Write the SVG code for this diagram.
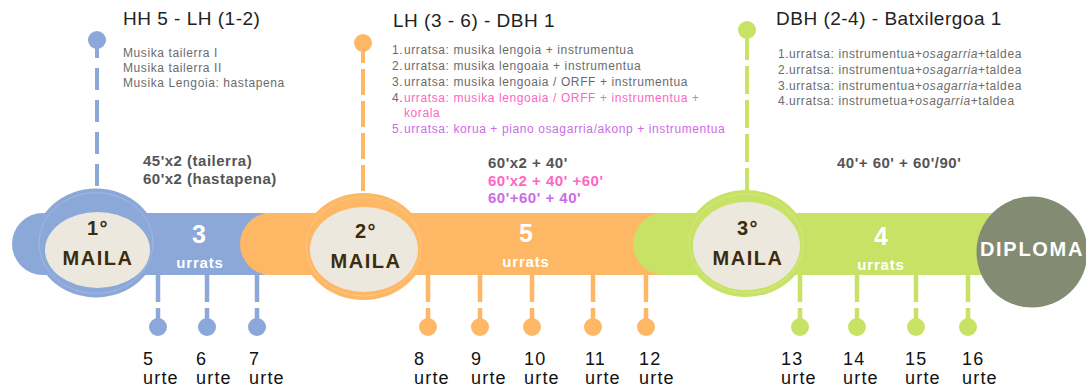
<svg xmlns="http://www.w3.org/2000/svg" width="1086" height="389" viewBox="0 0 1086 389">
<style>
.t{font-family:"Liberation Sans",Arial,sans-serif}
.title{font-size:19px;letter-spacing:0.5px;fill:#222}
.lst{font-size:12px;letter-spacing:0.6px;fill:#6b6b6b}
.dur{font-size:15px;font-weight:bold;letter-spacing:0.5px;fill:#555}
.pink{fill:#ff66c4}
.purp{fill:#cb6ce6}
.lvl{font-size:20px;font-weight:bold;letter-spacing:1.5px;fill:#3b2c0c;text-anchor:middle}
.big{font-size:25px;font-weight:bold;fill:#fff;text-anchor:middle}
.ur{font-size:15px;font-weight:bold;letter-spacing:0.8px;fill:#fff;text-anchor:middle}
.age{font-size:18px;letter-spacing:1.2px;fill:#111}
.cream{fill:#ece8de}
.ring{fill:none;stroke:#fff;stroke-opacity:0.18;stroke-width:1}
.b{fill:#8ba8d8}.bs{stroke:#8ba8d8}
.o{fill:#feb865}.os{stroke:#feb865}
.g{fill:#c8e266}.gs{stroke:#c8e266}
.top{stroke-width:4;fill:none}
.tick{stroke-width:4.5;fill:none;stroke-dasharray:27 6}
</style>

<g id="connectors">
  <line class="top bs" x1="97" y1="36" x2="97" y2="190" stroke-dasharray="22 10"/>
  <circle class="b" cx="97" cy="40" r="9"/>
  <line class="top os" x1="363" y1="37" x2="363" y2="195" stroke-dasharray="26 6"/>
  <circle class="o" cx="363" cy="43" r="9"/>
  <line class="top gs" x1="747" y1="32" x2="747" y2="192" stroke-dasharray="28 6"/>
  <circle class="g" cx="747" cy="30" r="9"/>

  <g class="tick bs">
    <line x1="158" y1="275" x2="158" y2="327"/>
    <line x1="207" y1="275" x2="207" y2="327"/>
    <line x1="257" y1="275" x2="257" y2="327"/>
  </g>
  <g class="b">
    <circle cx="158" cy="327" r="9"/><circle cx="207" cy="327" r="9"/><circle cx="257" cy="327" r="9"/>
  </g>
  <g class="tick os">
    <line x1="428" y1="275" x2="428" y2="327"/>
    <line x1="480" y1="275" x2="480" y2="327"/>
    <line x1="532" y1="275" x2="532" y2="327"/>
    <line x1="593" y1="275" x2="593" y2="327"/>
    <line x1="646" y1="275" x2="646" y2="327"/>
  </g>
  <g class="o">
    <circle cx="428" cy="327" r="9"/><circle cx="480" cy="327" r="9"/><circle cx="532" cy="327" r="9"/><circle cx="593" cy="327" r="9"/><circle cx="646" cy="327" r="9"/>
  </g>
  <g class="tick gs">
    <line x1="800" y1="275" x2="800" y2="327"/>
    <line x1="857" y1="275" x2="857" y2="327"/>
    <line x1="916" y1="275" x2="916" y2="327"/>
    <line x1="968" y1="275" x2="968" y2="327"/>
  </g>
  <g class="g">
    <circle cx="800" cy="327" r="9"/><circle cx="857" cy="327" r="9"/><circle cx="916" cy="327" r="9"/><circle cx="968" cy="327" r="9"/>
  </g>
</g>

<g id="band1">
  <rect class="b" x="12" y="213" width="280" height="62" rx="31"/>
  <text class="t big" x="199" y="243">3</text>
  <text class="t ur" x="200" y="268">urrats</text>
</g>
<g id="band2">
  <rect class="o" x="240" y="213" width="450" height="62" rx="31"/>
  <text class="t big" x="526" y="242">5</text>
  <text class="t ur" x="526" y="267">urrats</text>
</g>
<g id="band3">
  <rect class="g" x="633" y="213" width="420" height="62" rx="31"/>
  <text class="t big" x="881" y="245">4</text>
  <text class="t ur" x="881" y="270">urrats</text>
</g>

<g id="maila1">
  <ellipse class="b" cx="96" cy="243" rx="61" ry="54.5"/>
  <ellipse class="ring" cx="96" cy="243" rx="57" ry="50.5"/>
  <ellipse class="cream" cx="97.5" cy="250" rx="52.5" ry="38"/>
  <text class="t lvl" x="98" y="235">1°</text>
  <text class="t lvl" x="98" y="265">MAILA</text>
</g>
<g id="maila2">
  <ellipse class="o" cx="363.5" cy="246.5" rx="61.5" ry="53.5"/>
  <ellipse class="ring" cx="363.5" cy="246.5" rx="57.5" ry="49.5"/>
  <ellipse class="cream" cx="364" cy="249.5" rx="54" ry="42.5"/>
  <text class="t lvl" x="366" y="238">2°</text>
  <text class="t lvl" x="366" y="268">MAILA</text>
</g>
<g id="maila3">
  <ellipse class="g" cx="746" cy="243.5" rx="61" ry="53.5"/>
  <ellipse class="ring" cx="746" cy="243.5" rx="57" ry="49.5"/>
  <ellipse class="cream" cx="746.5" cy="246" rx="53.5" ry="44"/>
  <text class="t lvl" x="748" y="235">3°</text>
  <text class="t lvl" x="748" y="265">MAILA</text>
</g>
<g id="diploma">
  <circle cx="1032" cy="252" r="55.5" fill="#838b72"/>
  <text class="t" x="1032" y="256" font-size="20" font-weight="bold" letter-spacing="1.7" fill="#fff" text-anchor="middle">DIPLOMA</text>
</g>

<g id="info1">
  <text class="t title" x="123" y="25">HH 5 - LH (1-2)</text>
  <text class="t lst" x="123" y="57">Musika tailerra I</text>
  <text class="t lst" x="123" y="72">Musika tailerra II</text>
  <text class="t lst" x="123" y="87">Musika Lengoia: hastapena</text>
  <text class="t dur" x="143" y="166">45'x2 (tailerra)</text>
  <text class="t dur" x="143" y="184">60'x2 (hastapena)</text>
</g>
<g id="info2">
  <text class="t title" x="393" y="27">LH (3 - 6) - DBH 1</text>
  <g class="t lst">
    <text x="392" y="54">1.</text><text x="404" y="54">urratsa: musika lengoia + instrumentua</text>
    <text x="392" y="70">2.</text><text x="404" y="70">urratsa: musika lengoaia + instrumentua</text>
    <text x="392" y="86">3.</text><text x="404" y="86">urratsa: musika lengoaia / ORFF + instrumentua</text>
    <text x="392" y="102">4.</text><text class="pink" x="404" y="102">urratsa: musika lengoaia / ORFF + instrumentua +</text>
    <text class="pink" x="404" y="117">korala</text>
    <text class="purp" x="392" y="133">5.</text><text class="purp" x="404" y="133">urratsa: korua + piano osagarria/akonp + instrumentua</text>
  </g>
  <text class="t dur" x="488" y="168">60'x2 + 40'</text>
  <text class="t dur pink" x="488" y="186">60'x2 + 40' +60'</text>
  <text class="t dur purp" x="488" y="203">60'+60' + 40'</text>
</g>
<g id="info3">
  <text class="t title" x="776" y="25">DBH (2-4) - Batxilergoa 1</text>
  <g class="t lst">
    <text x="778" y="58">1.</text><text x="789" y="58">urratsa: instrumentua+<tspan font-style="italic">osagarria</tspan>+taldea</text>
    <text x="778" y="74">2.</text><text x="789" y="74">urratsa: instrumentua+<tspan font-style="italic">osagarria</tspan>+taldea</text>
    <text x="778" y="90">3.</text><text x="789" y="90">urratsa: instrumentua+<tspan font-style="italic">osagarria</tspan>+taldea</text>
    <text x="778" y="105">4.</text><text x="789" y="105">urratsa: instrumetua+<tspan font-style="italic">osagarria</tspan>+taldea</text>
  </g>
  <text class="t dur" x="837" y="168">40'+ 60' + 60'/90'</text>
</g>

<g id="ages" class="t age">
  <text x="143" y="365">5</text><text x="143" y="384">urte</text>
  <text x="196" y="365">6</text><text x="196" y="384">urte</text>
  <text x="249" y="365">7</text><text x="249" y="384">urte</text>
  <text x="414" y="365">8</text><text x="414" y="384">urte</text>
  <text x="471" y="365">9</text><text x="471" y="384">urte</text>
  <text x="524" y="365">10</text><text x="524" y="384">urte</text>
  <text x="585" y="365">11</text><text x="585" y="384">urte</text>
  <text x="639" y="365">12</text><text x="639" y="384">urte</text>
  <text x="781" y="365">13</text><text x="781" y="384">urte</text>
  <text x="843" y="365">14</text><text x="843" y="384">urte</text>
  <text x="905" y="365">15</text><text x="905" y="384">urte</text>
  <text x="962" y="365">16</text><text x="962" y="384">urte</text>
</g>
</svg>
